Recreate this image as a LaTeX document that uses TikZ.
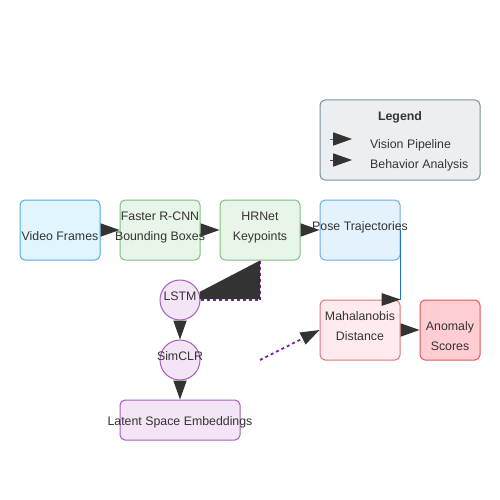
\documentclass[tikz,border=0pt]{standalone}
\usepackage{fontspec}
\setmainfont{Liberation Sans}
\usetikzlibrary{arrows.meta,calc}
\definecolor{textc}{HTML}{333333}
\definecolor{arrowc}{HTML}{333333}
\definecolor{visfill}{HTML}{E1F5FE}
\definecolor{visdraw}{HTML}{4FADE6}
\definecolor{detfill}{HTML}{E8F5E9}
\definecolor{detdraw}{HTML}{7FBF7F}
\definecolor{posefill}{HTML}{E3F2FD}
\definecolor{posedraw}{HTML}{6AAEEB}
\definecolor{behfill}{HTML}{F3E5F5}
\definecolor{behdraw}{HTML}{A65BC2}
\definecolor{mahfill}{HTML}{FFEBEE}
\definecolor{mahdraw}{HTML}{E57373}
\definecolor{anofill}{HTML}{FFCDD2}
\definecolor{anodraw}{HTML}{E0575F}
\definecolor{legfill}{HTML}{ECEFF1}
\definecolor{legdraw}{HTML}{78909C}
\definecolor{visline}{HTML}{1976D2}
\definecolor{behline}{HTML}{7B1FA2}
\definecolor{anoline}{HTML}{D32F2F}
\begin{document}
\begin{tikzpicture}[x=1pt,y=-1pt,
  font=\fontsize{12.35}{14}\selectfont,
  box/.style={draw, rounded corners=5pt, line width=1pt, minimum width=80pt, minimum height=60pt, inner sep=0pt},
  circ/.style={circle, draw=behdraw, fill=behfill, line width=1pt, minimum size=40pt, inner sep=0pt},
  lbl/.style={anchor=base, text=textc, inner sep=0pt},
  tipa/.style={-{Triangle[length=19pt,width=13.5pt,color=arrowc,line width=0pt]}},
  vis/.style={draw=visline, line width=1pt},
  beh/.style={draw=behline, line width=1.8pt, dash pattern=on 3pt off 3pt},
  ano/.style={draw=anoline, line width=1pt}]
\fill[white] (0,0) rectangle (500,500);
\useasboundingbox (0,0) rectangle (500,500);

% boxes
\node[box, draw=visdraw, fill=visfill] (video) at (60,230) {};
\node[box, draw=detdraw, fill=detfill] (rcnn) at (160,230) {};
\node[box, draw=detdraw, fill=detfill] (hrnet) at (260,230) {};
\node[box, draw=posedraw, fill=posefill] (pose) at (360,230) {};
\node[circ] (lstm) at (180,300) {};
\node[circ] (simclr) at (180,360) {};
\node[box, draw=behdraw, fill=behfill, minimum width=120pt, minimum height=40pt] (latent) at (180,420) {};
\node[box, draw=mahdraw, fill=mahfill] (maha) at (360,330) {};
\node[box, draw=anodraw, fill=anofill, minimum width=60pt] (anom) at (450,330) {};
\node[box, draw=legdraw, fill=legfill, minimum width=160pt, minimum height=80pt] (legend) at (400,140) {};

% connectors
\draw[vis, tipa] (video) -- (rcnn);
\draw[vis, tipa] (rcnn) -- (hrnet);
\draw[vis, tipa] (hrnet) -- (pose);
\draw[vis, line width=1.8pt] (pose.east) -- (maha.north east);
\fill[arrowc] (maha.north east) -- ++(-19,-6.5) -- ++(0,13) -- cycle;
\draw[ano, tipa] (maha) -- (anom);
\draw[beh] (hrnet.south) |- (lstm.east);
\fill[arrowc] (hrnet.south) -- ($(lstm.east)+(-1,-8)$) -- ($(lstm.east)+(-1,-1)$) -- ($(hrnet.south |- lstm.east)+(0,-1)$) -- cycle;
\draw[draw=behline, line width=1pt, tipa] (lstm) -- (simclr);
\draw[draw=behline, line width=1pt, tipa] (simclr) -- (latent);
\coordinate (dstart) at (260,360);
\draw[beh, tipa] (dstart) -- (maha.west);

% labels
\node[lbl] (tvideo) at (60,240) {Video Frames};
\node[lbl] (trcnn1) at (160,220) {Faster R-CNN};
\node[lbl] (trcnn2) at (160,240) {Bounding Boxes};
\node[lbl] (thr1) at (260,220) {HRNet};
\node[lbl] (thr2) at (260,240) {Keypoints};
\node[lbl] (tpose) at (360,230) {Pose Trajectories};
\node[lbl] (tlstm) at (180,300) {LSTM};
\node[lbl] (tsim) at (180,360) {SimCLR};
\node[lbl] (tlat) at (180,425) {Latent Space Embeddings};
\node[lbl] (tmah1) at (360,320) {Mahalanobis};
\node[lbl] (tmah2) at (360,340) {Distance};
\node[lbl] (tano1) at (450,330) {Anomaly};
\node[lbl] (tano2) at (450,350) {Scores};

% legend
\node[lbl, font=\fontsize{12.35}{14}\selectfont\bfseries] (ltitle) at (400,121) {Legend};
\coordinate (la1) at (330,139);
\coordinate (lb1) at (352,139);
\coordinate (la2) at (330,160);
\coordinate (lb2) at (352,160);
\draw[vis, tipa] (la1) -- (lb1);
\draw[draw=behline, line width=1pt, tipa] (la2) -- (lb2);
\node[lbl, anchor=base west] (lvis) at (370,148) {Vision Pipeline};
\node[lbl, anchor=base west] (lbeh) at (370,168) {Behavior Analysis};
\end{tikzpicture}
\end{document}
